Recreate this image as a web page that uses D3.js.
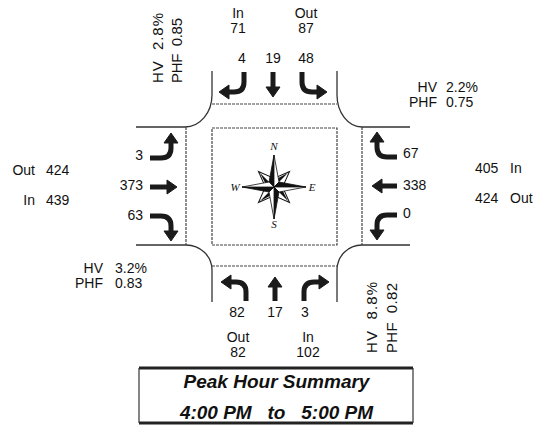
<!DOCTYPE html>
<html><head><meta charset="utf-8">
<script src="https://cdn.jsdelivr.net/npm/d3@7"></script>
<style>
body{margin:0;background:#fff}
svg{display:block}
text{font-family:"Liberation Sans",Arial,sans-serif;fill:#111}
</style>
</head><body>
<svg id="c" width="539" height="426"></svg>
<script>
// ---------------- DATA ----------------
const legs = ["N", "E", "S", "W"];
const movements = ["R", "T", "L"];           // right, through, left (driver's view)
const northVolumes = [4, 19, 48];            // R, T, L
const eastVolumes  = [67, 338, 0];           // R, T, L
const southVolumes = [3, 17, 82];            // R, T, L
const westVolumes  = [63, 373, 3];           // R, T, L
const legIn  = [71, 405, 102, 439];          // N, E, S, W
const legOut = [87, 424, 82, 424];
const hvPct  = ["2.8%", "2.2%", "8.8%", "3.2%"];
const phfVals = ["0.85", "0.75", "0.82", "0.83"];
const titleLines = ["Peak Hour Summary", "4:00 PM   to   5:00 PM"];
const compassLabels = ["N", "E", "S", "W"];

const volumes = { N: northVolumes, E: eastVolumes, S: southVolumes, W: westVolumes };

// ---------------- LAYOUT ----------------
const svg = d3.select("#c");
const lat = d3.scalePoint().domain(movements).range([-29, 29]);

const legLayout = {
  N: { ox: 273, oy: 72,  rot: 0,   thr: 25, depth: 20 },
  E: { ox: 397, oy: 186, rot: 90,  thr: 25, depth: 20 },
  S: { ox: 275, oy: 301, rot: 180, thr: 24, depth: 19 },
  W: { ox: 150, oy: 187, rot: -90, thr: 27, depth: 21 }
};
const volLabel = {
  N: { anchor: "middle", pos: { R: [242, 63], T: [273, 63], L: [306, 63] } },
  S: { anchor: "middle", pos: { R: [305, 317], T: [275, 317], L: [237, 317] } },
  W: { anchor: "end",    pos: { R: [143, 220], T: [143, 190], L: [143, 160] } },
  E: { anchor: "start",  pos: { R: [403, 158], T: [403, 190], L: [403, 218] } }
};

// ---------------- ROADS ----------------
const road = svg.append("g").attr("fill", "none").attr("stroke", "#333").attr("stroke-width", 1.3);
road.append("path").attr("d", "M212,71 L212,95 A27,32 0 0 1 185,127 L136,127");
road.append("path").attr("d", "M337,71 L337,95 A25,32 0 0 0 362,127 L410,127");
road.append("path").attr("d", "M136,245 L186,245 A26,25 0 0 1 212,270 L212,302");
road.append("path").attr("d", "M410,245 L362,245 A25,25 0 0 0 337,270 L337,302");

const dotted = svg.append("g").attr("fill", "none").attr("stroke", "#444")
  .attr("stroke-width", 1.2).attr("stroke-dasharray", "3,1");
dotted.append("line").attr("x1", 212).attr("x2", 337).attr("y1", 104).attr("y2", 104);
dotted.append("line").attr("x1", 212).attr("x2", 337).attr("y1", 266).attr("y2", 266);
dotted.append("line").attr("x1", 186).attr("x2", 186).attr("y1", 127).attr("y2", 245);
dotted.append("line").attr("x1", 362).attr("x2", 362).attr("y1", 127).attr("y2", 245);
dotted.append("rect").attr("x", 212).attr("y", 128).attr("width", 125).attr("height", 117);

// ---------------- ARROWS ----------------
function head(tx, ty, dx, dy) {
  const L = 10, W = 7;
  const bx = tx - dx * L, by = ty - dy * L;
  const px = -dy, py = dx;
  return `M${tx},${ty} L${bx + px * W},${by + py * W} L${bx - px * W},${by - py * W} Z`;
}
function arrowPaths(m, cfg) {
  const x = lat(m);
  if (m === "T") {
    return { stem: `M${x},0 L${x},${cfg.thr - 9}`, head: head(x, cfg.thr, 0, 1) };
  }
  const s = m === "R" ? -1 : 1;
  const d = cfg.depth, tipX = x + s * 25, rr = 10;
  const stem = `M${x},0 L${x},${d - rr} Q${x},${d} ${x + s * rr},${d} L${tipX - s * 9},${d}`;
  return { stem, head: head(tipX, d, s, 0) };
}
legs.forEach(leg => {
  const cfg = legLayout[leg];
  const g = svg.append("g").attr("transform", `translate(${cfg.ox},${cfg.oy}) rotate(${cfg.rot})`);
  movements.forEach(m => {
    const p = arrowPaths(m, cfg);
    g.append("path").attr("d", p.stem).attr("fill", "none").attr("stroke", "#1a1a1a")
      .attr("stroke-width", 5).attr("stroke-linejoin", "round");
    g.append("path").attr("d", p.head).attr("fill", "#1a1a1a").attr("stroke", "#1a1a1a")
      .attr("stroke-width", 1).attr("stroke-linejoin", "round");
  });
  movements.forEach((m, i) => {
    const [tx, ty] = volLabel[leg].pos[m];
    svg.append("text").attr("x", tx).attr("y", ty).attr("text-anchor", volLabel[leg].anchor)
      .attr("font-size", 14).text(volumes[leg][i]);
  });
});

// ---------------- IN / OUT ----------------
const t = (x, y, s, anchor = "start", size = 14) =>
  svg.append("text").attr("x", x).attr("y", y).attr("text-anchor", anchor).attr("font-size", size).text(s);

// North
t(238, 18, "In", "middle"); t(238, 33, legIn[0], "middle");
t(306, 18, "Out", "middle"); t(306, 33, legOut[0], "middle");
// South
t(238, 342, "Out", "middle"); t(238, 357, legOut[2], "middle");
t(308, 342, "In", "middle"); t(308, 357, legIn[2], "middle");
// West
t(35, 175, "Out", "end"); t(46, 175, legOut[3]);
t(35, 205, "In", "end");  t(46, 205, legIn[3]);
// East
t(475, 173, legIn[1]);  t(510, 173, "In");
t(475, 203, legOut[1]); t(510, 203, "Out");

// ---------------- HV / PHF ----------------
// East (horizontal)
t(437, 92, "HV", "end");   t(446, 92, hvPct[1]);
t(437, 107, "PHF", "end"); t(446, 107, phfVals[1]);
// South-west (horizontal)
t(103, 273, "HV", "end");  t(115, 273, hvPct[3]);
t(103, 288, "PHF", "end"); t(115, 288, phfVals[3]);
// rotated
function rot(x, y, s, len) {
  svg.append("text").attr("transform", `translate(${x},${y}) rotate(-90)`)
    .attr("font-size", 15).attr("textLength", len).attr("lengthAdjust", "spacing")
    .attr("xml:space", "preserve").text(s);
}
rot(163, 83, "HV  " + hvPct[0], 70);
rot(182, 83, "PHF  " + phfVals[0], 65);
rot(377, 353, "HV  " + hvPct[2], 71);
rot(397, 353, "PHF  " + phfVals[2], 70);

// ---------------- COMPASS ----------------
const cx = 274, cy = 187;
const cg = svg.append("g").attr("transform", `translate(${cx},${cy})`);
const R = 32, r = 22, w = 5;
// diagonal points (outlined)
[45, 135, 225, 315].forEach(a => {
  const g = cg.append("g").attr("transform", `rotate(${a})`);
  g.append("path").attr("d", `M0,0 L${-w},${-9} L0,${-r} L${w},${-9} Z`)
    .attr("fill", "#fff").attr("stroke", "#111").attr("stroke-width", 1);
  g.append("path").attr("d", `M0,0 L${-w + 1.5},${-9} L0,${-r + 2} Z`).attr("fill", "#111");
});
// main points
[0, 90, 180, 270].forEach(a => {
  const g = cg.append("g").attr("transform", `rotate(${a})`);
  g.append("path").attr("d", `M0,0 L${-w},${-w} L0,${-R} Z`)
    .attr("fill", "#111").attr("stroke", "#111").attr("stroke-width", 0.8);
  g.append("path").attr("d", `M0,0 L${w},${-w} L0,${-R} Z`)
    .attr("fill", "#fff").attr("stroke", "#111").attr("stroke-width", 0.8);
});
const cl = [[274, 150], [312, 191], [274, 228], [235, 191]];
compassLabels.forEach((s, i) => {
  svg.append("text").attr("x", cl[i][0]).attr("y", cl[i][1]).attr("text-anchor", "middle")
    .attr("font-size", 11).attr("font-style", "italic")
    .style("font-family", "'Liberation Serif','DejaVu Serif',serif").text(s);
});

// ---------------- TITLE BOX ----------------
const bx0 = 139, bx1 = 413, by0 = 368, by1 = 423;
svg.append("line").attr("x1", bx0).attr("x2", bx1).attr("y1", by0).attr("y2", by0)
  .attr("stroke", "#222").attr("stroke-width", 3);
svg.append("line").attr("x1", bx0).attr("x2", bx1).attr("y1", by1).attr("y2", by1)
  .attr("stroke", "#222").attr("stroke-width", 3);
svg.append("line").attr("x1", bx0).attr("x2", bx0).attr("y1", by0).attr("y2", by1)
  .attr("stroke", "#333").attr("stroke-width", 1.2);
svg.append("line").attr("x1", bx1).attr("x2", bx1).attr("y1", by0).attr("y2", by1)
  .attr("stroke", "#333").attr("stroke-width", 1.2);
svg.append("text").attr("x", 276.5).attr("y", 388).attr("text-anchor", "middle")
  .attr("font-size", 19).attr("font-weight", "bold").attr("font-style", "italic").text(titleLines[0]);
svg.append("text").attr("x", 276.5).attr("y", 419).attr("text-anchor", "middle")
  .attr("xml:space", "preserve")
  .attr("font-size", 19).attr("font-weight", "bold").attr("font-style", "italic").text(titleLines[1]);
</script>
</body></html>
